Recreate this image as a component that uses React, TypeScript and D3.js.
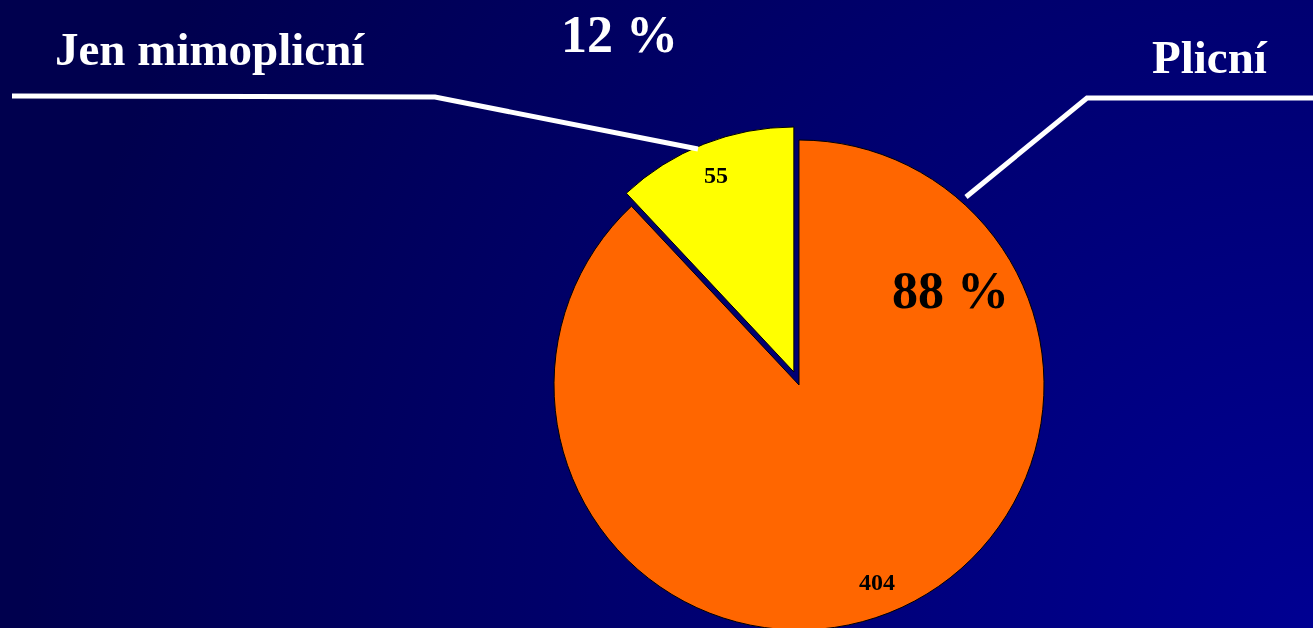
import React from "react";
import * as d3 from "d3";

const categories = ["Plicní", "Jen mimoplicní"];
const values = [404, 55];
const colors = ["#FF6600", "#FFFF00"];

const W = 1313;
const H = 628;

export default function App() {
  const cx = 799;
  const cy = 385;
  const r = 245;
  const explode = 14;
  const total = d3.sum(values);
  const pie = d3.pie<number>().sort(null).value((d) => d);
  const arcs = pie(values);
  const arc = d3.arc<d3.PieArcDatum<number>>().innerRadius(0).outerRadius(r);
  const labelArc = d3.arc<d3.PieArcDatum<number>>().innerRadius(212).outerRadius(212);
  const pct = values.map((v) => Math.round((v / total) * 100));

  return (
    <svg
      width={W}
      height={H}
      style={{ position: "fixed", left: 0, top: 0, display: "block" }}
      fontFamily="'Liberation Serif', 'Times New Roman', serif"
      fontWeight="bold"
    >
      <defs>
        <radialGradient id="bg" gradientUnits="userSpaceOnUse" cx={W} cy={H} r={1400}>
          <stop offset="0" stopColor="#000092" />
          <stop offset="0.92" stopColor="#00004e" />
          <stop offset="1" stopColor="#00004e" />
        </radialGradient>
      </defs>
      <rect x={0} y={0} width={W} height={H} fill="url(#bg)" />
      {arcs.map((a, i) => {
        const mid = (a.startAngle + a.endAngle) / 2;
        const off = i === 1 ? explode : 0;
        const dx = off * Math.sin(mid);
        const dy = -off * Math.cos(mid);
        const [lx, ly] = labelArc.centroid(a);
        return (
          <g key={categories[i]} transform={`translate(${cx + dx},${cy + dy})`}>
            <path d={arc(a) || ""} fill={colors[i]} stroke="#000" strokeWidth={1} />
            <text x={lx} y={ly + 8} textAnchor="middle" fontSize={24} fill="#000">
              {values[i]}
            </text>
          </g>
        );
      })}
      <polyline points="12,96 435,97 698,149" fill="none" stroke="#fff" strokeWidth={5} />
      <polyline points="966,197 1087,98 1313,98" fill="none" stroke="#fff" strokeWidth={5} />
      <text x={55} y={65} fontSize={47} fill="#fff">{categories[1]}</text>
      <text x={1152} y={73} fontSize={47} fill="#fff">{categories[0]}</text>
      <text x={561} y={52} fontSize={52} fill="#fff">{`${pct[1]} %`}</text>
      <text x={892} y={308} fontSize={52} fill="#000">{`${pct[0]} %`}</text>
    </svg>
  );
}
